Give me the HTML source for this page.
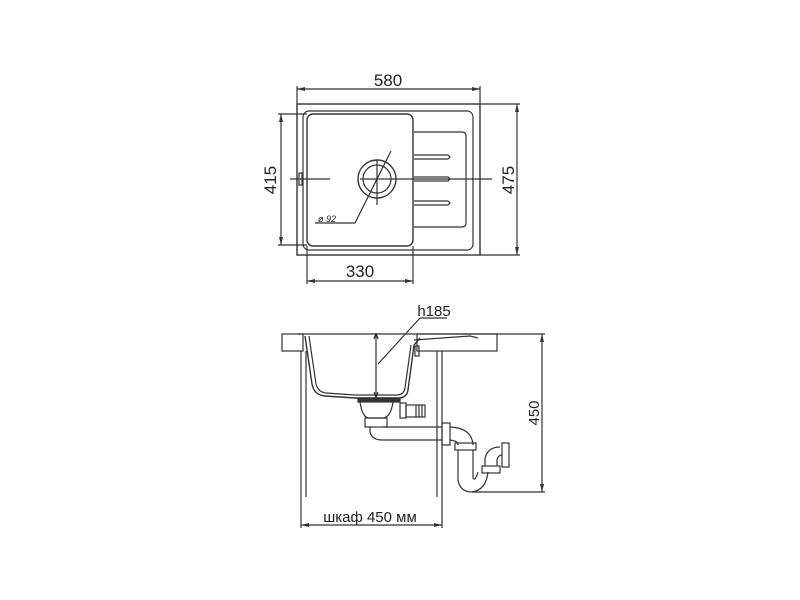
<!DOCTYPE html>
<html><head><meta charset="utf-8"><style>
html,body{margin:0;padding:0;background:#fff;}
svg{display:block}
text{font-family:"Liberation Sans",Arial,sans-serif;fill:#222}
</style></head><body>
<svg width="800" height="600" viewBox="0 0 800 600" xmlns="http://www.w3.org/2000/svg">
<g fill="none" stroke="#333" stroke-width="1.2">
<rect x="297" y="104" width="183" height="151" stroke-width="1.4"/>
<rect x="303" y="111" width="170" height="139" rx="6"/>
<rect x="307" y="114" width="106" height="132" rx="6" stroke-width="1.4"/>
<path d="M414 132 H462 Q466 132 466 136 V223 Q466 227 462 227 H414"/>
<path d="M414 155 H448 L450 157 L448 159 H414"/>
<path d="M414 177 H448 L450 179 L448 181 H414"/>
<path d="M414 201 H448 L450 203 L448 205 H414"/>
<circle cx="377" cy="179" r="19" stroke-width="1.4"/>
<circle cx="377" cy="179" r="14"/>
<rect x="299" y="173" width="3" height="12"/>
<line x1="290" y1="179" x2="330" y2="179"/>
<line x1="360" y1="179" x2="492" y2="179"/>
<line x1="377" y1="160" x2="377" y2="205"/>
<path d="M315 223 H355 L391 151"/>
<line x1="297" y1="89" x2="480" y2="89"/>
<line x1="297" y1="86" x2="297" y2="104"/>
<line x1="480" y1="86" x2="480" y2="104"/>
<line x1="517" y1="104" x2="517" y2="255"/>
<line x1="480" y1="104" x2="520" y2="104"/>
<line x1="480" y1="255" x2="520" y2="255"/>
<line x1="281" y1="114" x2="281" y2="245"/>
<line x1="278" y1="114" x2="307" y2="114"/>
<line x1="278" y1="245" x2="307" y2="245"/>
<line x1="307" y1="281" x2="413" y2="281"/>
<line x1="307" y1="246" x2="307" y2="284"/>
<line x1="413" y1="246" x2="413" y2="284"/>

<line x1="298" y1="334" x2="545" y2="334"/>
<rect x="282" y="334" width="21" height="17"/>
<rect x="417" y="334" width="80" height="17"/>
<line x1="301" y1="351" x2="301" y2="497"/>
<line x1="306" y1="351" x2="306" y2="497"/>
<line x1="437" y1="351" x2="437" y2="497"/>
<line x1="442" y1="351" x2="442" y2="497"/>
<path d="M305 336 L312 384 Q314 395 325 396 L355 398 H400 Q407 397 408 390 L414 345 L420 338" stroke-width="1.4"/>
<path d="M309 336 L316 384 Q318 392 326 393 L355 395 H398 Q404 394 405 388 L411 345"/>
<path d="M414 340 L470 336 L478 338"/>
<rect x="415" y="346" width="4" height="10"/>
<line x1="376" y1="333" x2="376" y2="398"/>
<path d="M376 333 l-2 6 M376 333 l2 6 M376 398 l-2 -6 M376 398 l2 -6"/>
<path d="M420 318 H447 M420 318 L378 364"/>
<rect x="358" y="398" width="42" height="4" fill="#333"/>
<path d="M360 402 Q362 416 368 418 H384 Q391 416 393 402"/>
<rect x="365" y="418" width="22" height="9"/>
<rect x="400" y="403" width="6" height="15"/>
<rect x="406" y="405" width="19" height="12"/>
<path d="M416 405 V417 M419 405 V417 M422 405 V417"/>
<path d="M370 427 V432 Q372 440 382 440 H442 M383 427 H442"/>
<rect x="442" y="423" width="8" height="22"/>
<path d="M450 427 Q472 428 473 445 M450 440 Q458 441 458 445"/>
<rect x="455" y="443" width="21" height="7"/>
<path d="M458 450 V480 Q460 492 472 492 Q486 490 488 472 M473 450 V478 Q475 482 478 472"/>
<rect x="482" y="466" width="18" height="7"/>
<path d="M485 466 V458 Q488 447 500 447 M497 466 V460 Q498 455 502 455"/>
<rect x="502" y="443" width="7" height="24"/>
<line x1="542" y1="334" x2="542" y2="492"/>
<line x1="472" y1="492" x2="545" y2="492"/>
<line x1="301" y1="525" x2="442" y2="525"/>
<line x1="301" y1="497" x2="301" y2="528"/>
<line x1="442" y1="497" x2="442" y2="528"/>
</g>
<g fill="#333">
<path d="M297 89 l8 -2 v4z M480 89 l-8 -2 v4z"/>
<path d="M517 104 l-2 8 h4z M517 255 l-2 -8 h4z"/>
<path d="M281 114 l-2 8 h4z M281 245 l-2 -8 h4z"/>
<path d="M307 281 l8 -2 v4z M413 281 l-8 -2 v4z"/>
<path d="M542 334 l-2 8 h4z M542 492 l-2 -8 h4z"/>
<path d="M301 525 l8 -2 v4z M442 525 l-8 -2 v4z"/>
</g>
<text x="388" y="86" font-size="17" text-anchor="middle">580</text>
<text x="360" y="277" font-size="17" text-anchor="middle">330</text>
<text transform="translate(276,180) rotate(-90)" font-size="17" text-anchor="middle">415</text>
<text transform="translate(514,180) rotate(-90)" font-size="17" text-anchor="middle">475</text>
<text transform="translate(539,413) rotate(-90)" font-size="15" text-anchor="middle">450</text>
<text x="318" y="222" font-size="9" font-style="italic">ø 92</text>
<text x="434" y="316" font-size="15" text-anchor="middle">h185</text>
<text x="370" y="522" font-size="15" text-anchor="middle">шкаф 450 мм</text>
</svg>
</body></html>
